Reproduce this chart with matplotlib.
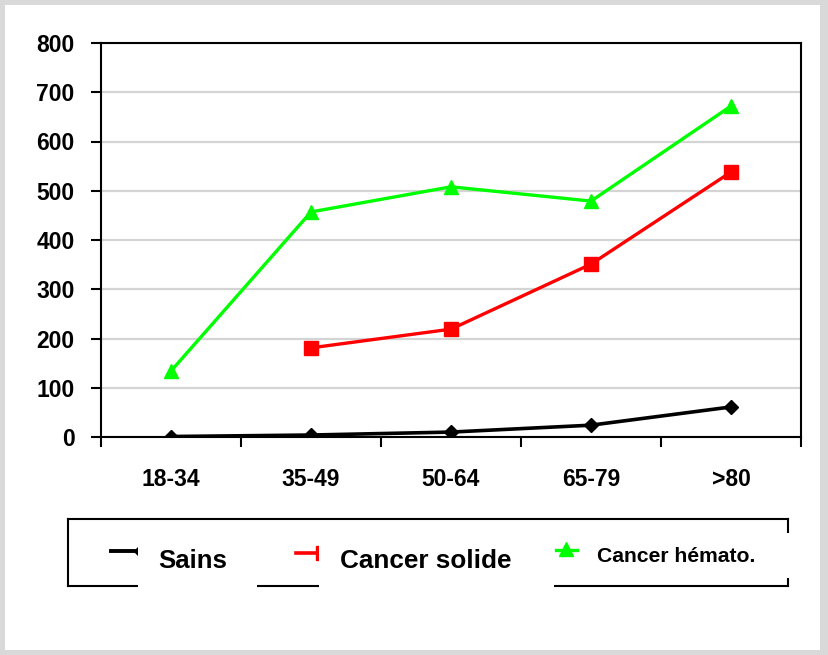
import numpy as np
import matplotlib
matplotlib.use("Agg")
import matplotlib.pyplot as plt
from matplotlib.patches import Rectangle
from matplotlib.lines import Line2D

plt.rcParams["font.family"] = ["Liberation Sans", "DejaVu Sans"]

GRID = "#d4d4d4"
FRAME = "#d9d9d9"

age_groups = ["18-34", "35-49", "50-64", "65-79", ">80"]
sains = [1, 4, 10, 24, 61]
cancer_solide = [np.nan, 181, 219, 351, 538]
cancer_hemato = [134, 457, 508, 479, 672]

W, H = 829, 655
fig = plt.figure(figsize=(W / 100, H / 100), dpi=100)
fig.patch.set_facecolor(FRAME)
fig.patches.append(Rectangle((5 / W, 5 / H), 815 / W, 645 / H,
                             transform=fig.transFigure, facecolor="white",
                             edgecolor="none", zorder=-10))

ax = fig.add_axes([101 / W, 1 - 437 / H, 700 / W, 394 / H])
ax.set_facecolor("white")
x = np.arange(len(age_groups))

ax.plot(x, cancer_hemato, color="#00ff00", lw=2.4, marker="^", ms=10,
        zorder=4)
ax.plot(x, cancer_solide, color="#ff0000", lw=2.4, marker="s", ms=10,
        zorder=4)
ax.plot(x, sains, color="black", lw=2.6, marker="D", ms=7, zorder=4)

ax.set_xlim(-0.5, len(age_groups) - 0.5)
ax.set_ylim(0, 800)
ax.set_yticks(range(0, 801, 100))
ax.yaxis.grid(True, color=GRID, lw=1.6)
ax.set_axisbelow(True)

ax.set_xticks(x)
ax.set_xticklabels(age_groups)
ax.set_xticks(np.arange(-0.5, len(age_groups), 1.0), minor=True)
ax.tick_params(axis="x", which="major", length=0, pad=22)
ax.tick_params(axis="x", which="minor", length=7, width=1.5, direction="out")
ax.tick_params(axis="y", length=7, width=1.5, direction="out", pad=12)
for lbl in ax.get_xticklabels() + ax.get_yticklabels():
    lbl.set_fontweight("bold")
    lbl.set_fontsize(16.5)
for sp in ax.spines.values():
    sp.set_linewidth(1.5)
    sp.set_color("black")

# hand-built legend box, drawn in pixel coordinates
lg = fig.add_axes([0, 0, 1, 1], zorder=5)
lg.set_xlim(0, W)
lg.set_ylim(H, 0)
lg.axis("off")
lg.patch.set_alpha(0)

for (x0, y0), (x1, y1) in [((68, 519), (788, 519)), ((68, 519), (68, 586)),
                           ((68, 586), (788, 586)), ((788, 519), (788, 586))]:
    lg.add_line(Line2D([x0, x1], [y0, y1], color="black", lw=1.5, zorder=1))

lg.add_line(Line2D([111, 141], [551, 551], color="black", lw=2.8, zorder=2))
lg.plot([141], [551], marker="D", ms=7, color="black", zorder=2)
lg.add_line(Line2D([296, 323], [553, 553], color="#ff0000", lw=2.6, zorder=2))
lg.plot([323], [553], marker="s", ms=10, color="#ff0000", zorder=2)
lg.add_line(Line2D([556, 577], [550, 550], color="#00ff00", lw=2.4, zorder=2))
lg.plot([566], [549], marker="^", ms=10, color="#00ff00", zorder=2)

for bx, by, bw, bh in [(138, 532, 119, 62), (319, 532, 235, 62),
                       (590, 533, 210, 45)]:
    lg.add_patch(Rectangle((bx, by), bw, bh, facecolor="white",
                           edgecolor="none", zorder=3))

lg.text(158, 561, "Sains", fontsize=18.5, fontweight="bold", va="center",
        ha="left", zorder=4)
lg.text(340, 561, "Cancer solide", fontsize=18.8, fontweight="bold",
        va="center", ha="left", zorder=4)
lg.text(597, 556, "Cancer hémato.", fontsize=15.2, fontweight="bold",
        va="center", ha="left", zorder=4)

fig.savefig("out.png", dpi=100, facecolor=FRAME)
